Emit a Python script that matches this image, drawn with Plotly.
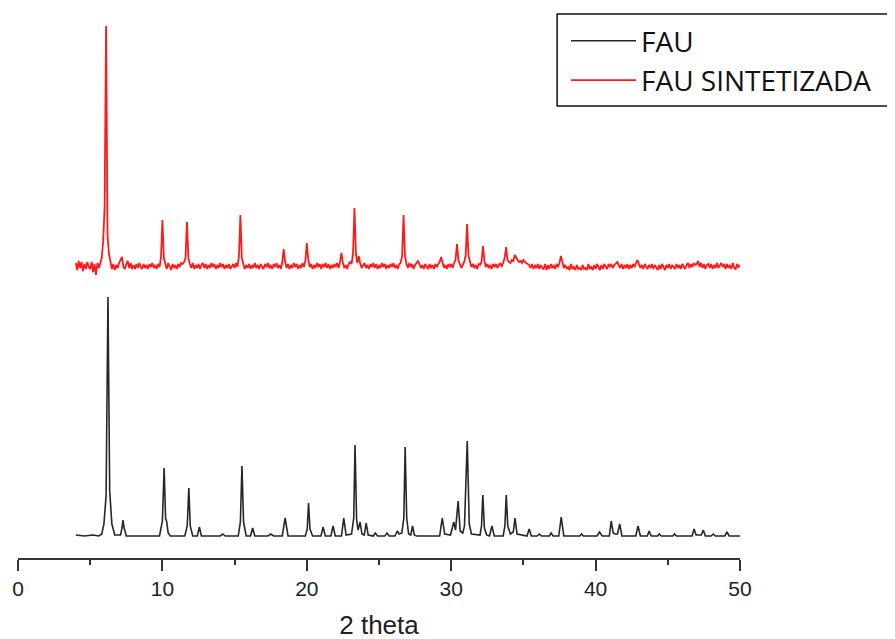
import plotly.graph_objects as go

# ---------------- data ----------------
# FAU reference pattern: 2theta positions and intensities (arbitrary units)
fau_2theta = [
    4.0, 4.6, 5.2, 5.6, 5.8,
    5.95, 6.1, 6.23, 6.35, 6.5, 6.7,
    7.1, 7.2, 7.27, 7.35, 7.5,
    9.8, 10.0, 10.12, 10.22, 10.3, 10.4, 10.55,
    11.55, 11.72, 11.83, 11.93, 12.1,
    12.42, 12.56, 12.7,
    14.0, 14.18, 14.35,
    15.25, 15.4, 15.51, 15.62, 15.8,
    16.1, 16.25, 16.4,
    17.3, 17.5, 17.7,
    18.3, 18.5, 18.7,
    19.9, 20.03, 20.12, 20.22, 20.4,
    20.98, 21.13, 21.28,
    21.67, 21.82, 21.97,
    22.4, 22.56, 22.72,
    23.1, 23.25, 23.34, 23.45, 23.55, 23.69, 23.82,
    23.98, 24.11, 24.25,
    24.6, 24.75, 24.9,
    25.4, 25.56, 25.7,
    26.1, 26.27, 26.4, 26.58, 26.72, 26.81, 26.92, 27.05,
    27.2, 27.32, 27.45, 27.6,
    29.2, 29.38, 29.55,
    29.95, 30.18, 30.3, 30.48, 30.62, 30.8,
    30.92, 31.11, 31.25, 31.4,
    32.0, 32.1, 32.19, 32.3, 32.45,
    32.65, 32.82, 32.98,
    33.6, 33.72, 33.81, 33.92, 34.1, 34.3, 34.42, 34.56,
    35.25, 35.4, 35.55,
    35.95, 36.1, 36.25,
    36.8, 36.92, 37.05,
    37.45, 37.62, 37.8,
    38.9, 39.02, 39.15,
    40.1, 40.27, 40.45,
    40.95, 41.08, 41.22, 41.35, 41.52, 41.67, 41.82,
    42.78, 42.94, 43.1,
    43.58, 43.71, 43.85,
    44.3, 44.41, 44.55,
    45.35, 45.47, 45.6,
    46.68, 46.82, 46.96, 47.32, 47.46, 47.6,
    48.0, 48.15, 48.3,
    48.95, 49.1, 49.25,
    50.0,
]
fau_counts = [
    1, 0, 1, 0, 2,
    12, 40, 239, 45, 12, 1,
    1, 8, 16, 8, 0,
    0, 15, 68, 18, 14, 3, 0,
    0, 10, 48, 10, 0,
    0, 9, 0,
    0, 2, 0,
    0, 14, 70, 14, 0,
    0, 8, 0,
    0, 2, 0,
    0, 18, 0,
    0, 7, 33, 7, 0,
    0, 9, 0,
    0, 10, 0,
    0, 18, 1,
    2, 18, 91, 16, 6, 14, 2,
    1, 13, 1,
    0, 3, 0,
    0, 3, 0,
    0, 5, 2, 3, 18, 89, 18, 2,
    1, 10, 1, 0,
    0, 18, 2,
    1, 14, 6, 35, 5, 3,
    10, 95, 12, 2,
    1, 10, 41, 8, 1,
    0, 10, 0,
    0, 10, 41, 10, 2, 4, 18, 2,
    0, 7, 0,
    0, 2, 0,
    0, 3, 0,
    0, 19, 0,
    0, 2, 0,
    0, 4, 0,
    0, 15, 3, 2, 2, 12, 0,
    0, 10, 0,
    0, 5, 0,
    0, 2, 0,
    0, 2, 0,
    0, 7, 1, 1, 6, 0,
    0, 2, 0,
    0, 4, 0,
    0,
]

# FAU SINTETIZADA: one row per degree (x.0 ... x.9), 4.0 to 50.0 in 0.1 steps
sint_start, sint_step = 4.0, 0.1
sint_counts = [
    3, -4, 5, -2, 4, -5, 2, -3, 4, -1,      # 4
    -3, 4, -6, 2, -9, 3, -2, 4, 8, 25,      # 5
    60, 240, 30, 12, 4, -3, 2, -4, 1, -2,   # 6
    3, 6, 9, -1, -3, 2, 5, -2, 3, -3,       # 7
    1, -3, 2, -2, 3, -1, -3, 2, -2, 1,      # 8
    -3, 2, -1, 3, -2, 1, -3, 2, -1, 8,      # 9
    46, 8, 2, -3, 3, -1, -4, 2, -2, 1,      # 10
    -3, 2, -1, 3, 2, 4, 8, 44, 8, 2,        # 11
    -2, 3, -3, 1, -2, 2, -3, 1, 3, -2,      # 12
    2, -3, 1, -2, 3, -1, 2, -3, 1, -2,      # 13
    3, -1, 2, -3, 1, -2, 2, -3, -1, 2,      # 14
    -2, 3, -1, 10, 51, 8, 2, -3, 1, -2,     # 15
    2, -3, 1, -2, 3, -2, 1, -3, 2, -1,      # 16
    -3, 2, -1, 3, -2, 1, -3, 2, -1, 3,      # 17
    -2, 1, -3, 4, 17, 4, -2, 2, -3, 1,      # 18
    -2, 3, -1, 2, -3, 1, -2, 3, -1, 5,      # 19
    23, 7, -1, 2, -3, 1, -2, 3, -1, 2,      # 20
    -3, 2, -1, 3, -2, 2, -3, 1, -2, 2,      # 21
    -1, 3, -2, 4, 13, 3, -2, 1, -3, 2,      # 22
    4, 2, 12, 58, 12, 3, 10, 2, -2, 1,      # 23
    3, -2, 1, -3, 2, -1, 3, -2, 2, -3,      # 24
    1, -2, 3, -1, 2, -3, 1, -2, 2, -1,      # 25
    3, -2, 1, -3, 2, 3, 10, 51, 10, 2,      # 26
    -2, 3, -1, 2, -3, 1, 3, 5, 2, -2,       # 27
    1, -3, 2, -1, -3, 2, -2, 1, -3, 2,      # 28
    -1, 2, 4, 9, 3, -2, 1, -3, 2, -1,       # 29
    2, -2, 3, 6, 22, 6, 2, -2, 1, 4,        # 30
    10, 42, 10, 3, -1, 2, -2, 1, -3, 2,     # 31
    1, 4, 20, 5, -1, 2, -2, 1, -3, 2,       # 32
    -1, 2, -2, 1, 3, -1, 4, 8, 19, 6,       # 33
    4, 3, 6, 5, 11, 8, 6, 4, 5, 3,          # 34
    6, 4, 3, 2, 1, -2, 2, -3, 1, -2,        # 35
    2, -3, 1, -2, -3, 2, -4, 1, -3, 2,      # 36
    -2, 1, -3, 2, -1, 3, 10, 4, -2, 1,      # 37
    -3, -1, -4, 2, -3, -1, -4, 1, -3, -2,   # 38
    -4, 1, -3, -2, -4, 2, -3, -1, -4, 1,    # 39
    -3, 2, -2, -4, 1, -3, 2, -1, -3, 2,     # 40
    -1, 2, -2, 1, 3, 4, 1, -2, 2, -3,       # 41
    1, -2, 2, -3, 1, -2, 2, -1, 3, 6,       # 42
    2, -2, 1, -3, 2, -1, -3, 1, -2, 2,      # 43
    -3, 1, -2, -4, 1, -3, 2, -2, -4, 1,     # 44
    -2, 2, -3, 1, -1, -3, 2, -2, 1, -3,     # 45
    2, -1, -3, 1, 3, -2, 2, -1, 3, 1,       # 46
    2, 5, -1, 3, -2, 2, -3, 1, 2, -2,       # 47
    2, -3, 1, -2, 3, -2, 1, 3, -1, 2,       # 48
    -3, 2, -2, 1, -3, 3, -2, -3, 2, -1,     # 49
    1,                                      # 50
]
sint_2theta = [round(sint_start + i * sint_step, 1) for i in range(len(sint_counts))]

series_names = ["FAU", "FAU SINTETIZADA"]
x_ticks = [0, 10, 20, 30, 40, 50]
x_title = "2 theta"

# vertical stacking offset of the synthesized pattern (display only)
sint_offset = 270

# ---------------- figure ----------------
fig = go.Figure()
fig.add_trace(go.Scatter(
    x=fau_2theta, y=fau_counts, mode="lines", name=series_names[0],
    line=dict(color="#262626", width=1.6),
))
fig.add_trace(go.Scatter(
    x=sint_2theta, y=[v + sint_offset for v in sint_counts], mode="lines",
    name=series_names[1], line=dict(color="#ff1a1a", width=1.8),
))

# legend frame
fig.add_shape(type="rect", xref="paper", yref="paper",
              x0=0.7467, x1=1.2118, y0=0.8248, y1=0.9927,
              line=dict(color="#111", width=1.5), fillcolor="rgba(0,0,0,0)", layer="above")

fig.update_layout(
    width=895, height=639,
    margin=dict(l=9.5, r=163, t=2, b=89),
    paper_bgcolor="white", plot_bgcolor="white",
    showlegend=True,
    legend=dict(
        x=0.759, y=0.9890, xanchor="left", yanchor="top",
        borderwidth=0, bgcolor="rgba(0,0,0,0)",
        font=dict(family="Open Sans", size=28, color="#111"),
        itemwidth=65, tracegroupgap=0,
    ),
    xaxis=dict(
        range=[0, 50], tickvals=x_ticks, ticktext=[str(t) for t in x_ticks],
        showline=True, linecolor="#333", linewidth=2,
        ticks="outside", ticklen=11, tickwidth=2, tickcolor="#333",
        minor=dict(ticks="outside", ticklen=5, tickwidth=2, tickcolor="#333", dtick=5, showgrid=False),
        showgrid=False, zeroline=False,
        tickfont=dict(family="Liberation Sans, Arial", size=21, color="#222"),
        title=dict(text=x_title, font=dict(family="Liberation Sans, Arial", size=26, color="#222"), standoff=17),
    ),
    yaxis=dict(range=[-22, 526], visible=False, showgrid=False, zeroline=False),
)

fig.write_html("out.html")
